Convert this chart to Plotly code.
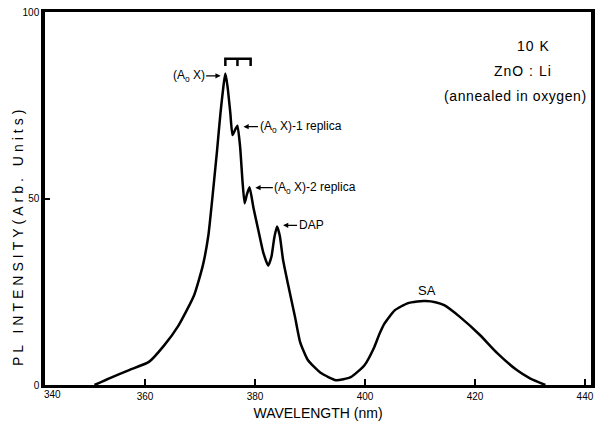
import plotly.graph_objects as go

# ---- data ----
wavelength_nm = [350.8, 353.5, 357.1, 360.7, 363.4, 366.1, 368.9, 370.5, 371.5, 372.5,
                 373.1, 373.7, 374.3, 374.6, 375.0, 375.5, 375.9, 376.4, 376.8, 377.3,
                 377.7, 378.1, 378.5, 379.0, 379.7, 380.6, 381.5, 382.4, 383.0, 383.5,
                 384.0, 384.5, 385.1, 386.0, 387.3, 388.2, 389.6, 392.0, 394.7, 397.4,
                 399.9, 401.7, 402.6, 403.5, 405.4, 407.7, 409.5, 411.0, 412.8, 414.4,
                 417.3, 420.9, 424.0, 427.6, 430.0, 432.8]
pl_intensity = [0.0, 1.8, 4.0, 6.2, 10.5, 16.0, 24.0, 32.0, 40.0, 54.0,
                63.0, 72.7, 80.7, 83.5, 80.0, 73.0, 67.0, 68.5, 69.5, 63.6,
                55.0, 48.7, 51.0, 53.0, 47.6, 41.5, 35.5, 32.0, 34.5, 39.5,
                42.5, 40.0, 33.5, 27.0, 18.0, 11.5, 6.7, 3.2, 1.3, 2.1,
                5.3, 10.2, 13.6, 16.4, 20.0, 21.9, 22.4, 22.5, 22.2, 21.4,
                18.2, 13.4, 8.6, 4.0, 1.8, 0.0]

# bracket over the A0X peak and its two replicas
bracket_peaks_nm = [374.6, 376.8, 379.2]
bracket_top = 87.5
bracket_leg = 85.5

x_tick_vals = [360, 380, 400, 420, 440]
x_tick_text = ["360", "380", "400", "420", "440"]
y_tick_vals = [0, 50, 100]
y_tick_text = ["0", "50", "100"]

FONT = "Liberation Sans, Arial, sans-serif"

fig = go.Figure()
fig.add_trace(go.Scatter(x=wavelength_nm, y=pl_intensity, mode="lines",
                         line=dict(color="black", width=2.5, shape="spline", smoothing=0.5),
                         hoverinfo="skip", showlegend=False))

# bracket
bx, by = [], []
bx += [bracket_peaks_nm[0], bracket_peaks_nm[0], bracket_peaks_nm[-1], bracket_peaks_nm[-1], None]
by += [bracket_leg, bracket_top, bracket_top, bracket_leg, None]
bx += [bracket_peaks_nm[1], bracket_peaks_nm[1]]
by += [bracket_top, bracket_leg]
fig.add_trace(go.Scatter(x=bx, y=by, mode="lines", line=dict(color="black", width=2.5),
                         hoverinfo="skip", showlegend=False))

ann = []
def arrow_label(x, y, text, ax):
    ann.append(dict(x=x, y=y, xref="x", yref="y", text=text, showarrow=True,
                    arrowhead=2, arrowsize=0.8, arrowwidth=1.3, arrowcolor="black",
                    ax=ax, ay=0, font=dict(family=FONT, size=12, color="black")))

arrow_label(373.74, 82.9, "(A<sub>o</sub> X)", -32)
arrow_label(377.9, 69.25, "(A<sub>o</sub> X)-1 replica", 57)
arrow_label(380.06, 52.9, "(A<sub>o</sub> X)-2 replica", 60)
arrow_label(385.1, 42.8, "DAP", 28)

def spaced(t, px):
    return '<span style="letter-spacing:%spx">%s</span>' % (px, t)

def paper_text(x, y, text, size=14, xanchor="center", angle=0):
    ann.append(dict(x=x, y=y, xref="paper", yref="paper", text=text, showarrow=False,
                    xanchor=xanchor, yanchor="middle", textangle=angle,
                    font=dict(family=FONT, size=size, color="black")))

ann.append(dict(x=411.3, y=25.3, xref="x", yref="y", text="SA", showarrow=False,
                xanchor="center", yanchor="middle",
                font=dict(family=FONT, size=13, color="black")))
paper_text(0.895, 0.909, spaced("10 K", 1))
paper_text(0.875, 0.842, spaced("ZnO : Li", 1))
paper_text(0.996, 0.775, spaced("(annealed in oxygen)", 0.6), xanchor="right")
paper_text(-0.049, 0.40, spaced("PL INTENSITY(Arb. Units)", 4), size=14, angle=-90)
ann.append(dict(x=0.013, y=-0.005, xref="paper", yref="paper", text="340", xanchor="center",
                yanchor="top", showarrow=False,
                font=dict(family=FONT, size=10, color="black")))

fig.update_layout(
    width=601, height=428,
    margin=dict(l=45, r=6, t=11, b=43),
    plot_bgcolor="white", paper_bgcolor="white",
    annotations=ann,
    xaxis=dict(range=[341.8, 441.1], tickmode="array", tickvals=x_tick_vals, ticktext=x_tick_text,
               ticks="inside", ticklen=6, tickwidth=2, tickcolor="black",
               showline=True, linecolor="black", linewidth=3, mirror=True,
               showgrid=False, zeroline=False,
               tickfont=dict(family=FONT, size=10, color="black"),
               title=dict(text="WAVELENGTH (nm)", standoff=8,
                          font=dict(family=FONT, size=14, color="black"))),
    yaxis=dict(range=[0, 100], tickmode="array", tickvals=y_tick_vals, ticktext=y_tick_text,
               ticks="inside", ticklen=5, tickwidth=2, tickcolor="black",
               showline=True, linecolor="black", linewidth=3.5, mirror=True,
               showgrid=False, zeroline=False,
               tickfont=dict(family=FONT, size=10, color="black")),
)

fig.write_html("out.html", config={"displayModeBar": False},
               post_script="document.body.style.margin='0';document.body.style.overflow='hidden';")
